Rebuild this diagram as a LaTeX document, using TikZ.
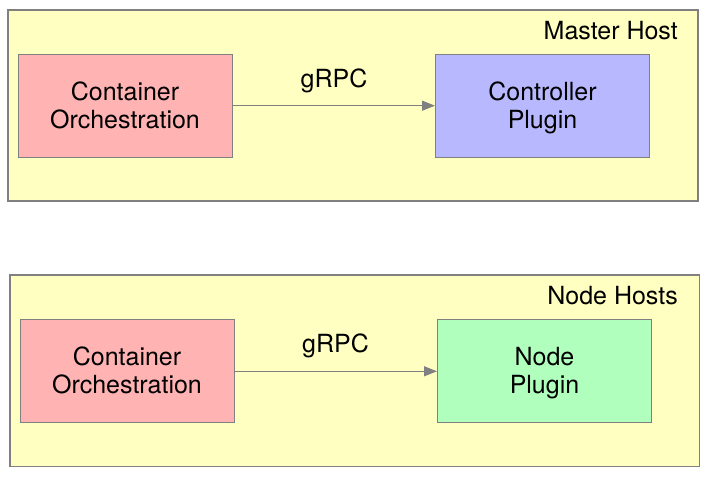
\documentclass[tikz,border=0pt]{standalone}
\usepackage{fontspec}
\setmainfont{TeX Gyre Heros}
\usetikzlibrary{arrows.meta}
\definecolor{hostfill}{HTML}{FFFFC2}
\definecolor{orchfill}{HTML}{FFB3B3}
\definecolor{ctrlfill}{HTML}{B8B8FF}
\definecolor{nodefill}{HTML}{B0FFBC}
\definecolor{edgegray}{HTML}{808080}
\newcommand\boxline[1]{\rule[-3pt]{0pt}{22.6pt}\smash{#1}}
\tikzset{
  x=1pt, y=1pt,
  hostbox/.style={draw=edgegray, fill=hostfill, line width=1.2pt},
  compbox/.style={draw=edgegray, line width=1pt, minimum width=214pt, minimum height=103pt,
    inner sep=0pt, align=center, font=\fontsize{25}{28}\selectfont},
  lbl/.style={font=\fontsize{25}{28}\selectfont, inner sep=0pt},
  conn/.style={draw=edgegray, line width=1.2pt, -{Triangle[length=13pt,width=10pt]}}
}
\begin{document}
\begin{tikzpicture}
\useasboundingbox (0,0) rectangle (708,-476);
% Master host
\draw[hostbox] (8,-10) rectangle (698,-201);
\node[lbl, anchor=base east] (mh) at (678,-40) {Master Host};
\node[compbox, fill=orchfill] (co1) at (125,-105.7) {\boxline{Container}\\\boxline{Orchestration}};
\node[compbox, fill=ctrlfill] (cp) at (542.5,-105.7) {\boxline{Controller}\\\boxline{Plugin}};
\draw[conn] (co1.east) -- (cp.west);
\node[lbl, anchor=base] (g1) at (334,-87.7) {gRPC};
% Node hosts
\draw[hostbox] (10,-275) rectangle (699.5,-466.7);
\node[lbl, anchor=base east] (nh) at (678,-304) {Node Hosts};
\node[compbox, fill=orchfill] (co2) at (127,-371.3) {\boxline{Container}\\\boxline{Orchestration}};
\node[compbox, fill=nodefill] (np) at (544.5,-371.3) {\boxline{Node}\\\boxline{Plugin}};
\draw[conn] (co2.east) -- (np.west);
\node[lbl, anchor=base] (g2) at (335.5,-352.7) {gRPC};
\end{tikzpicture}
\end{document}
